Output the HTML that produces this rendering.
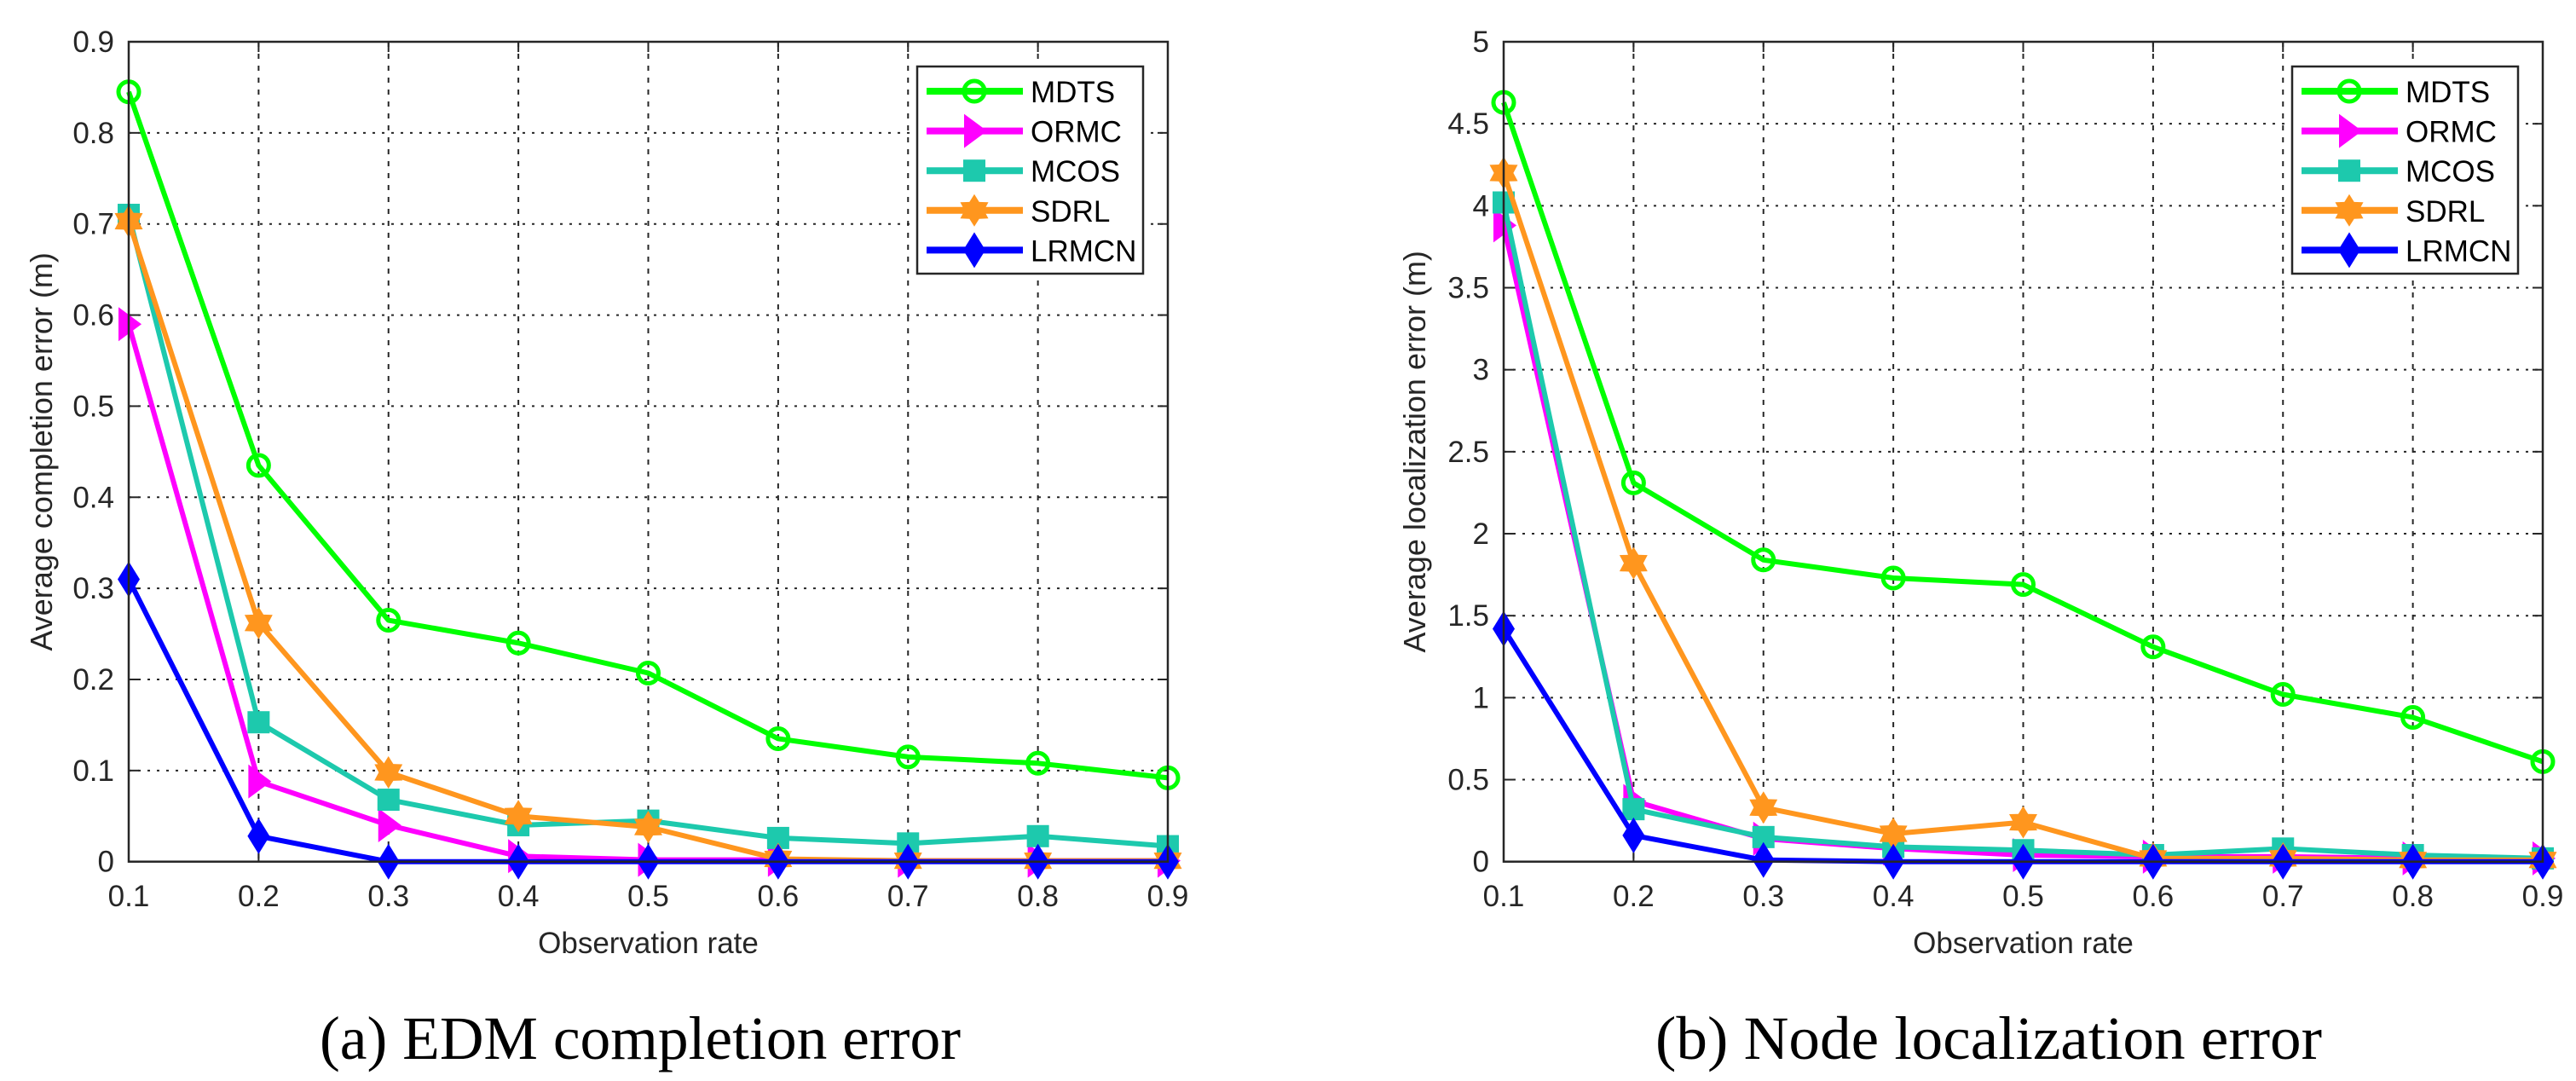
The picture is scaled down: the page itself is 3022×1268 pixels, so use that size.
<!DOCTYPE html>
<html><head><meta charset="utf-8"><style>
html,body{margin:0;padding:0;background:#fff;}
svg{display:block;}
text{font-family:"Liberation Sans",Arial,sans-serif;fill:#262626;}
.cap{font-family:"Liberation Serif","Times New Roman",serif;fill:#000;}
</style></head><body>
<svg id="fig" width="3022" height="1268" viewBox="0 0 3022 1268" xmlns="http://www.w3.org/2000/svg"></svg>
<script>
const xTicks = [0.1,0.2,0.3,0.4,0.5,0.6,0.7,0.8,0.9];
const seriesNames = ["MDTS","ORMC","MCOS","SDRL","LRMCN"];
const seriesColors = ["#00ff00","#ff00ff","#1dc9ad","#ff961e","#0000ff"];
const seriesMarkers = ["circle","triangle","square","star","diamond"];
// Chart (a)
const aYTicks = [0,0.1,0.2,0.3,0.4,0.5,0.6,0.7,0.8,0.9];
const aMDTS  = [0.845,0.435,0.265,0.240,0.207,0.135,0.115,0.108,0.092];
const aORMC  = [0.590,0.088,0.040,0.006,0.002,0.002,0.001,0.001,0.001];
const aMCOS  = [0.710,0.153,0.068,0.040,0.045,0.026,0.020,0.028,0.017];
const aSDRL  = [0.703,0.262,0.098,0.050,0.038,0.003,0.001,0.001,0.001];
const aLRMCN = [0.310,0.028,0.000,0.000,0.000,0.000,0.000,0.000,0.000];
// Chart (b)
const bYTicks = [0,0.5,1,1.5,2,2.5,3,3.5,4,4.5,5];
const bMDTS  = [4.63,2.31,1.84,1.73,1.69,1.31,1.02,0.88,0.61];
const bORMC  = [3.88,0.37,0.14,0.08,0.04,0.03,0.03,0.02,0.02];
const bMCOS  = [4.02,0.32,0.15,0.09,0.07,0.04,0.08,0.04,0.02];
const bSDRL  = [4.20,1.82,0.33,0.17,0.24,0.02,0.02,0.01,0.01];
const bLRMCN = [1.42,0.16,0.01,0.00,0.00,0.00,0.00,0.00,0.00];

const NS="http://www.w3.org/2000/svg";
const svg=document.getElementById('fig');
function el(tag,attrs,parent){const e=document.createElementNS(NS,tag);for(const k in attrs)e.setAttribute(k,attrs[k]);(parent||svg).appendChild(e);return e;}

function marker(g,type,cx,cy,color){
  let m;
  if(type==="circle"){m=el('circle',{cx:cx,cy:cy,r:12,fill:'none',stroke:color,'stroke-width':5},g);}
  else if(type==="triangle"){m=el('polygon',{points:`${cx-12},${cy-20} ${cx+15},${cy} ${cx-12},${cy+20}`,fill:color},g);}
  else if(type==="square"){m=el('rect',{x:cx-13,y:cy-13,width:26,height:26,fill:color},g);}
  else if(type==="star"){const r=19,p=[];for(let i=0;i<12;i++){const a=-Math.PI/2+i*Math.PI/6;const rr=i%2?r*0.6:r;p.push((cx+rr*Math.cos(a)).toFixed(1)+','+(cy+rr*Math.sin(a)).toFixed(1));}m=el('polygon',{points:p.join(' '),fill:color},g);}
  else {m=el('polygon',{points:`${cx},${cy-21} ${cx+13},${cy} ${cx},${cy+21} ${cx-13},${cy}`,fill:color},g);}
  return m;
}

function chart(opt){
  const {L,R,T,B,yTicks,yMax,data,yTitle,caption,capX,capW,yTitleX,legX,pfx}=opt;
  const xs=v=>L+(v-0.1)/0.8*(R-L);
  const ys=v=>B-v/yMax*(B-T);
  const g=el('g',{});
  
  
  xTicks.forEach((t,i)=>{ if(i>0&&i<xTicks.length-1){const l=el('line',{x1:xs(t),x2:xs(t),y1:T,y2:B,stroke:'#262626','stroke-width':2,'stroke-dasharray':'6,8'},g);}});
  yTicks.forEach((t,i)=>{ if(i>0&&i<yTicks.length-1){const l=el('line',{x1:L,x2:R,y1:ys(t),y2:ys(t),stroke:'#262626','stroke-width':2,'stroke-dasharray':'3,8'},g);}});
  xTicks.forEach(t=>{
    el('line',{x1:xs(t),x2:xs(t),y1:B,y2:B-12,stroke:'#262626','stroke-width':2},g);
    el('line',{x1:xs(t),x2:xs(t),y1:T,y2:T+12,stroke:'#262626','stroke-width':2},g);
    const tx=el('text',{x:xs(t),y:1063,'text-anchor':'middle','font-size':35},g);tx.textContent=t.toFixed(1);
    
  });
  yTicks.forEach(t=>{
    el('line',{x1:L,x2:L+12,y1:ys(t),y2:ys(t),stroke:'#262626','stroke-width':2},g);
    el('line',{x1:R,x2:R-12,y1:ys(t),y2:ys(t),stroke:'#262626','stroke-width':2},g);
    const tx=el('text',{x:L-17,y:ys(t)+12,'text-anchor':'end','font-size':35},g);tx.textContent=String(t);
    
  });
  data.forEach((vals,si)=>{
    const sg=el('g',{},g);
    
    
    el('polyline',{points:vals.map((v,i)=>xs(xTicks[i])+','+ys(v)).join(' '),fill:'none',stroke:seriesColors[si],'stroke-width':6,'stroke-linejoin':'round'},sg);
    vals.forEach((v,i)=>{const m=marker(sg,seriesMarkers[si],xs(xTicks[i]),ys(v),seriesColors[si]);
      });
  });
  const box=el('rect',{x:L,y:T,width:R-L,height:B-T,fill:'none',stroke:'#262626','stroke-width':2.5},g);
  
  const lg=el('g',{},g);
  
  
  el('rect',{x:legX,y:78,width:265,height:243,fill:'#fff',stroke:'#262626','stroke-width':2.5},lg);
  seriesNames.forEach((n,i)=>{
    const yy=107+i*46.6;
    const eg=el('g',{},lg);
    
    
    el('line',{x1:legX+11,x2:legX+124,y1:yy,y2:yy,stroke:seriesColors[i],'stroke-width':8},eg);
    marker(eg,seriesMarkers[i],legX+67,yy,seriesColors[i]);
    const t=el('text',{x:legX+133,y:yy+13,'font-size':35,fill:'#000'},eg);t.textContent=n;t.style.fill='#000';
  });
  const xt=el('text',{x:(L+R)/2,y:1118,'text-anchor':'middle','font-size':35},g);xt.textContent='Observation rate';
  
  const yt=el('text',{x:0,y:0,'text-anchor':'middle','font-size':36,transform:`translate(${yTitleX},${(T+B)/2}) rotate(-90)`},g);yt.textContent=yTitle;
  
  const ct=el('text',{x:capX-capW/2,y:1242,'font-size':72,class:'cap',textLength:capW,lengthAdjust:'spacingAndGlyphs'},g);ct.textContent=caption;
  
}

chart({L:151,R:1370,T:49,B:1010.7,yTicks:aYTicks,yMax:0.9,data:[aMDTS,aORMC,aMCOS,aSDRL,aLRMCN],
  yTitle:'Average completion error (m)',caption:'(a)  EDM completion error',capX:751,capW:752,yTitleX:61,legX:1076,pfx:'edm'});
chart({L:1764,R:2983,T:49,B:1010.7,yTicks:bYTicks,yMax:5,data:[bMDTS,bORMC,bMCOS,bSDRL,bLRMCN],
  yTitle:'Average localization error (m)',caption:'(b)  Node localization error',capX:2333,capW:782,yTitleX:1672,legX:2689,pfx:'localization'});
</script>
</body></html>
